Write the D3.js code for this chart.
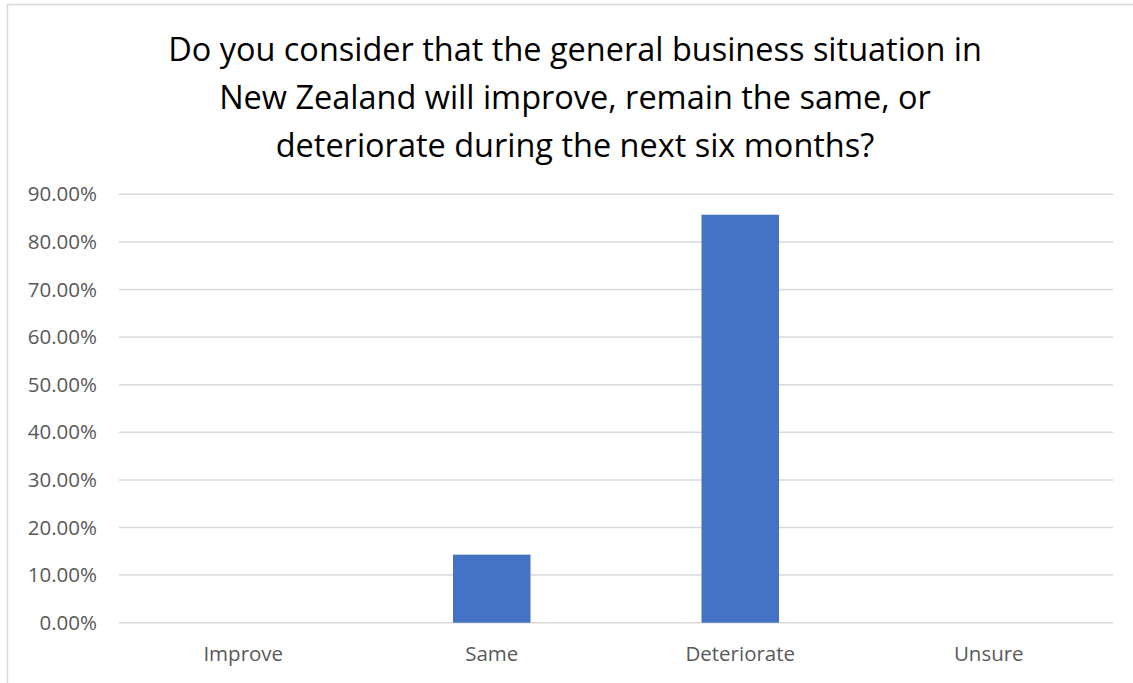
<!DOCTYPE html>
<html>
<head>
<meta charset="utf-8">
<script src="https://cdn.jsdelivr.net/npm/d3@7"></script>
<style>
  html, body { margin: 0; padding: 0; background: #fff; }
  svg { display: block; }
  text { font-family: "Open Sans", "DejaVu Sans", sans-serif; }
</style>
</head>
<body>
<svg id="chart" width="1133" height="683"></svg>
<script>
// Survey responses: share of respondents per answer
const categories = ["Improve", "Same", "Deteriorate", "Unsure"];
const shares = [0, 0.1429, 0.8571, 0];
const yTicks = [0, 0.1, 0.2, 0.3, 0.4, 0.5, 0.6, 0.7, 0.8, 0.9];
const titleLines = [
  "Do you consider that the general business situation in",
  "New Zealand will improve, remain the same, or",
  "deteriorate during the next six months?"
];

const svg = d3.select("#chart");
const W = 1133, H = 683;
const plot = { left: 119, right: 1113, top: 194.3, bottom: 622.7 };

// chart frame (only the top and left edges fall inside the view)
svg.append("path")
  .attr("d", `M7.5,${H} V4.5 H${W}`)
  .attr("fill", "none")
  .attr("stroke", "#d9d9d9")
  .attr("stroke-width", 1.5);

const x = d3.scaleBand()
  .domain(categories)
  .range([plot.left, plot.right])
  .paddingInner(0.688)
  .paddingOuter(0.344);

const y = d3.scaleLinear()
  .domain([0, 0.9])
  .range([plot.bottom, plot.top]);

// horizontal gridlines
svg.append("g")
  .selectAll("line")
  .data(yTicks)
  .join("line")
  .attr("x1", plot.left)
  .attr("x2", plot.right)
  .attr("y1", d => y(d))
  .attr("y2", d => y(d))
  .attr("stroke", "#d9d9d9")
  .attr("stroke-width", 1.5);

// y axis labels
const yAxis = d3.axisLeft(y)
  .tickValues(yTicks)
  .tickFormat(d3.format(".2%"))
  .tickSize(0)
  .tickPadding(22);
const gy = svg.append("g")
  .attr("transform", `translate(${plot.left},0)`)
  .call(yAxis);
gy.select(".domain").remove();
gy.selectAll("text")
  .attr("fill", "#595959")
  .style("font-size", "20.5px")
  .style("font-family", "'Open Sans', sans-serif");

// bars
svg.append("g")
  .selectAll("rect")
  .data(categories.map((c, i) => ({ c, v: shares[i] })))
  .join("rect")
  .attr("x", d => x(d.c))
  .attr("width", x.bandwidth())
  .attr("y", d => y(d.v))
  .attr("height", d => y(0) - y(d.v))
  .attr("fill", "#4472c4");

// x axis labels
const xAxis = d3.axisBottom(x).tickSize(0).tickPadding(24);
const gx = svg.append("g")
  .attr("transform", `translate(0,${plot.bottom})`)
  .call(xAxis);
gx.select(".domain").remove();
gx.selectAll("text")
  .attr("fill", "#595959")
  .style("font-size", "20.5px")
  .style("font-family", "'Open Sans', sans-serif");

// title, sized so the first line spans its intended width
const title = svg.append("g");
const baselines = [61, 109, 157];
const titleText = title.selectAll("text")
  .data(titleLines)
  .join("text")
  .attr("x", 575)
  .attr("y", (d, i) => baselines[i])
  .attr("text-anchor", "middle")
  .attr("fill", "#000")
  .style("font-size", "30px")
  .text(d => d);
const w0 = titleText.node().getComputedTextLength();
titleText.style("font-size", (30 * 814 / w0).toFixed(2) + "px");
</script>
</body>
</html>
